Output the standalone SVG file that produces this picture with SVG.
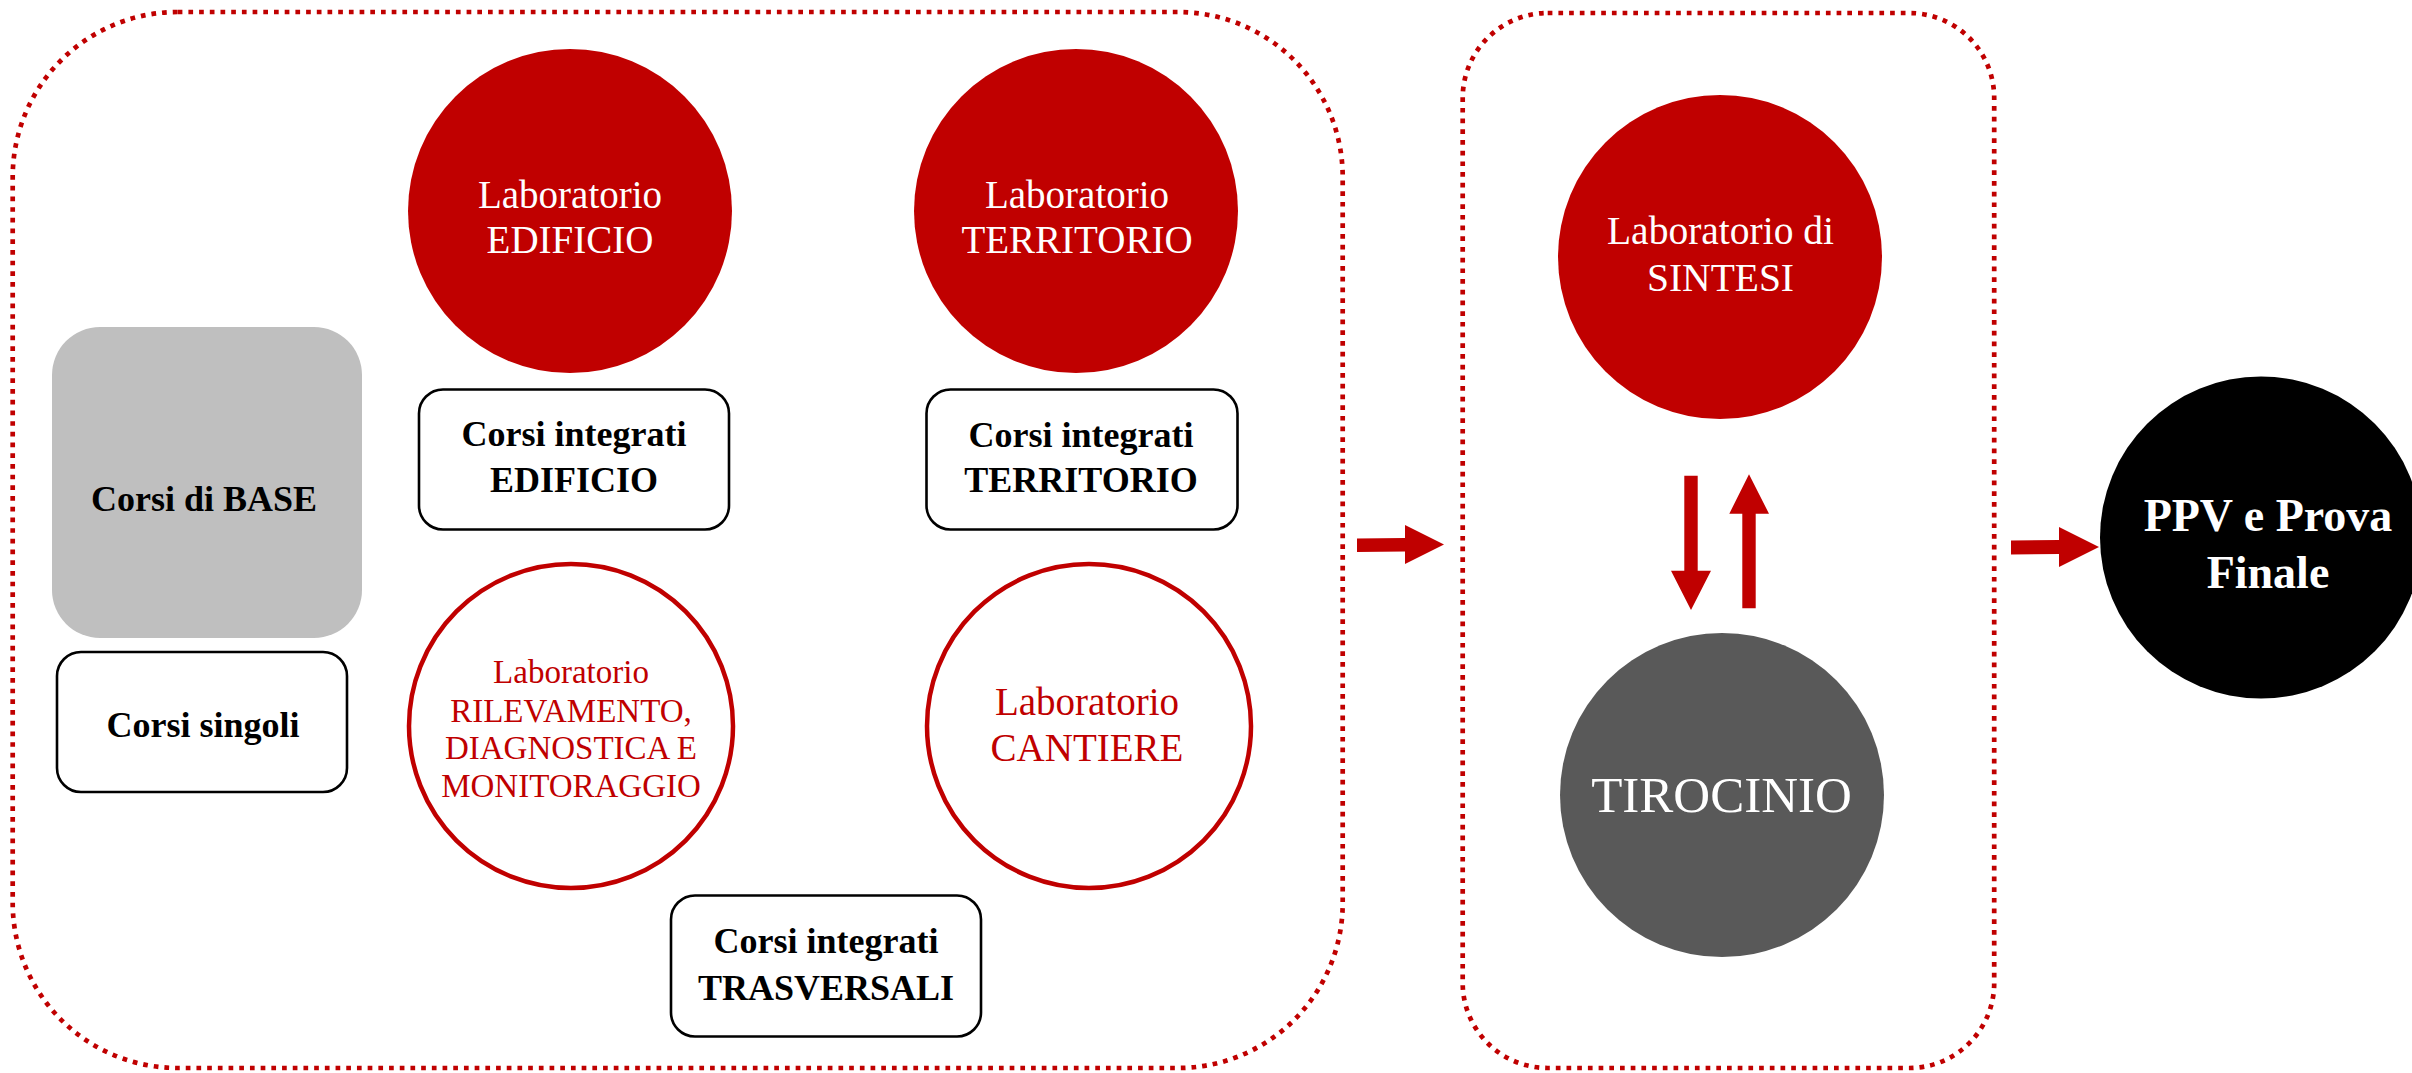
<svg xmlns="http://www.w3.org/2000/svg" width="2412" height="1073" viewBox="0 0 2412 1073">
<style>
.frame{fill:none;stroke:#C00000;stroke-width:4.7;stroke-dasharray:4.7 6;}
.box{fill:#FFFFFF;stroke:#000000;stroke-width:2.6;}
.t{font-family:"Liberation Serif","Times New Roman",serif;text-anchor:middle;}
.b{font-weight:bold;}
.w{fill:#FFFFFF;}
.k{fill:#000000;}
.r{fill:#C00000;}
.arrow{fill:#C00000;}
</style>
<rect width="2412" height="1073" fill="#FFFFFF"/>
<g id="frames">
<rect class="frame" x="12.7" y="12" width="1330" height="1056" rx="165" ry="165"/>
<rect class="frame" x="1462.7" y="13" width="531.5" height="1055" rx="85" ry="85"/>
</g>
<g id="lab-edificio">
<circle cx="570" cy="211" r="162" fill="#C00000"/>
<text class="t w" font-size="39" x="570" y="208">Laboratorio</text>
<text class="t w" font-size="39" x="570" y="253">EDIFICIO</text>
</g>
<g id="lab-territorio">
<circle cx="1076" cy="211" r="162" fill="#C00000"/>
<text class="t w" font-size="39" x="1077" y="208">Laboratorio</text>
<text class="t w" font-size="39" x="1077" y="253">TERRITORIO</text>
</g>
<g id="corsi-base">
<rect x="52" y="327" width="310" height="311" rx="48" ry="48" fill="#BFBFBF"/>
<text class="t b k" font-size="36" x="204" y="511">Corsi di BASE</text>
</g>
<g id="corsi-integrati-edificio">
<rect class="box" x="419" y="389.5" width="310" height="140" rx="24" ry="24"/>
<text class="t b k" font-size="36" x="574" y="446">Corsi integrati</text>
<text class="t b k" font-size="36" x="574" y="492">EDIFICIO</text>
</g>
<g id="corsi-integrati-territorio">
<rect class="box" x="926.5" y="389.5" width="311" height="140" rx="24" ry="24"/>
<text class="t b k" font-size="36" x="1081" y="446.5">Corsi integrati</text>
<text class="t b k" font-size="36" x="1081" y="492">TERRITORIO</text>
</g>
<g id="corsi-singoli">
<rect class="box" x="57" y="652" width="290" height="140" rx="24" ry="24"/>
<text class="t b k" font-size="36" x="203" y="737">Corsi singoli</text>
</g>
<g id="lab-rilevamento">
<circle cx="571" cy="726" r="162" fill="#FFFFFF" stroke="#C00000" stroke-width="4.5"/>
<text class="t r" font-size="33" x="571" y="683">Laboratorio</text>
<text class="t r" font-size="33" x="571" y="722">RILEVAMENTO,</text>
<text class="t r" font-size="33" x="571" y="759">DIAGNOSTICA E</text>
<text class="t r" font-size="33" x="571" y="797">MONITORAGGIO</text>
</g>
<g id="lab-cantiere">
<circle cx="1089" cy="726" r="162" fill="#FFFFFF" stroke="#C00000" stroke-width="4.5"/>
<text class="t r" font-size="39" x="1087" y="715">Laboratorio</text>
<text class="t r" font-size="39" x="1087" y="761">CANTIERE</text>
</g>
<g id="corsi-integrati-trasversali">
<rect class="box" x="671" y="895.5" width="310" height="141" rx="24" ry="24"/>
<text class="t b k" font-size="36" x="826" y="953">Corsi integrati</text>
<text class="t b k" font-size="36" x="826" y="1000">TRASVERSALI</text>
</g>
<g id="lab-sintesi">
<circle cx="1720" cy="257" r="162" fill="#C00000"/>
<text class="t w" font-size="39.5" x="1720.5" y="244">Laboratorio di</text>
<text class="t w" font-size="39.5" x="1720.5" y="291">SINTESI</text>
</g>
<g id="tirocinio">
<circle cx="1722" cy="795" r="162" fill="#595959"/>
<text class="t w" font-size="51" x="1721.5" y="812">TIROCINIO</text>
</g>
<g id="ppv">
<circle cx="2261" cy="537.5" r="161" fill="#000000"/>
<text class="t b w" font-size="46" x="2268" y="531">PPV e Prova</text>
<text class="t b w" font-size="46" x="2268" y="588">Finale</text>
</g>
<g id="connectors">
<polygon class="arrow" points="1357,538.5 1405,538 1405,525 1444,544.5 1405,564 1405,551.5 1357,552"/>
<polygon class="arrow" points="2011,540.5 2059,540 2059,527 2099,547 2059,567 2059,554 2011,554.5"/>
<polygon class="arrow" points="1684.3,475.7 1697.7,475.7 1697.7,570.7 1711,570.7 1691,610 1671,570.7 1684.3,570.7"/>
<polygon class="arrow" points="1749,474.3 1769,513.7 1755.7,513.7 1755.7,608.3 1742.3,608.3 1742.3,513.7 1729.3,513.7"/>
</g>
</svg>
